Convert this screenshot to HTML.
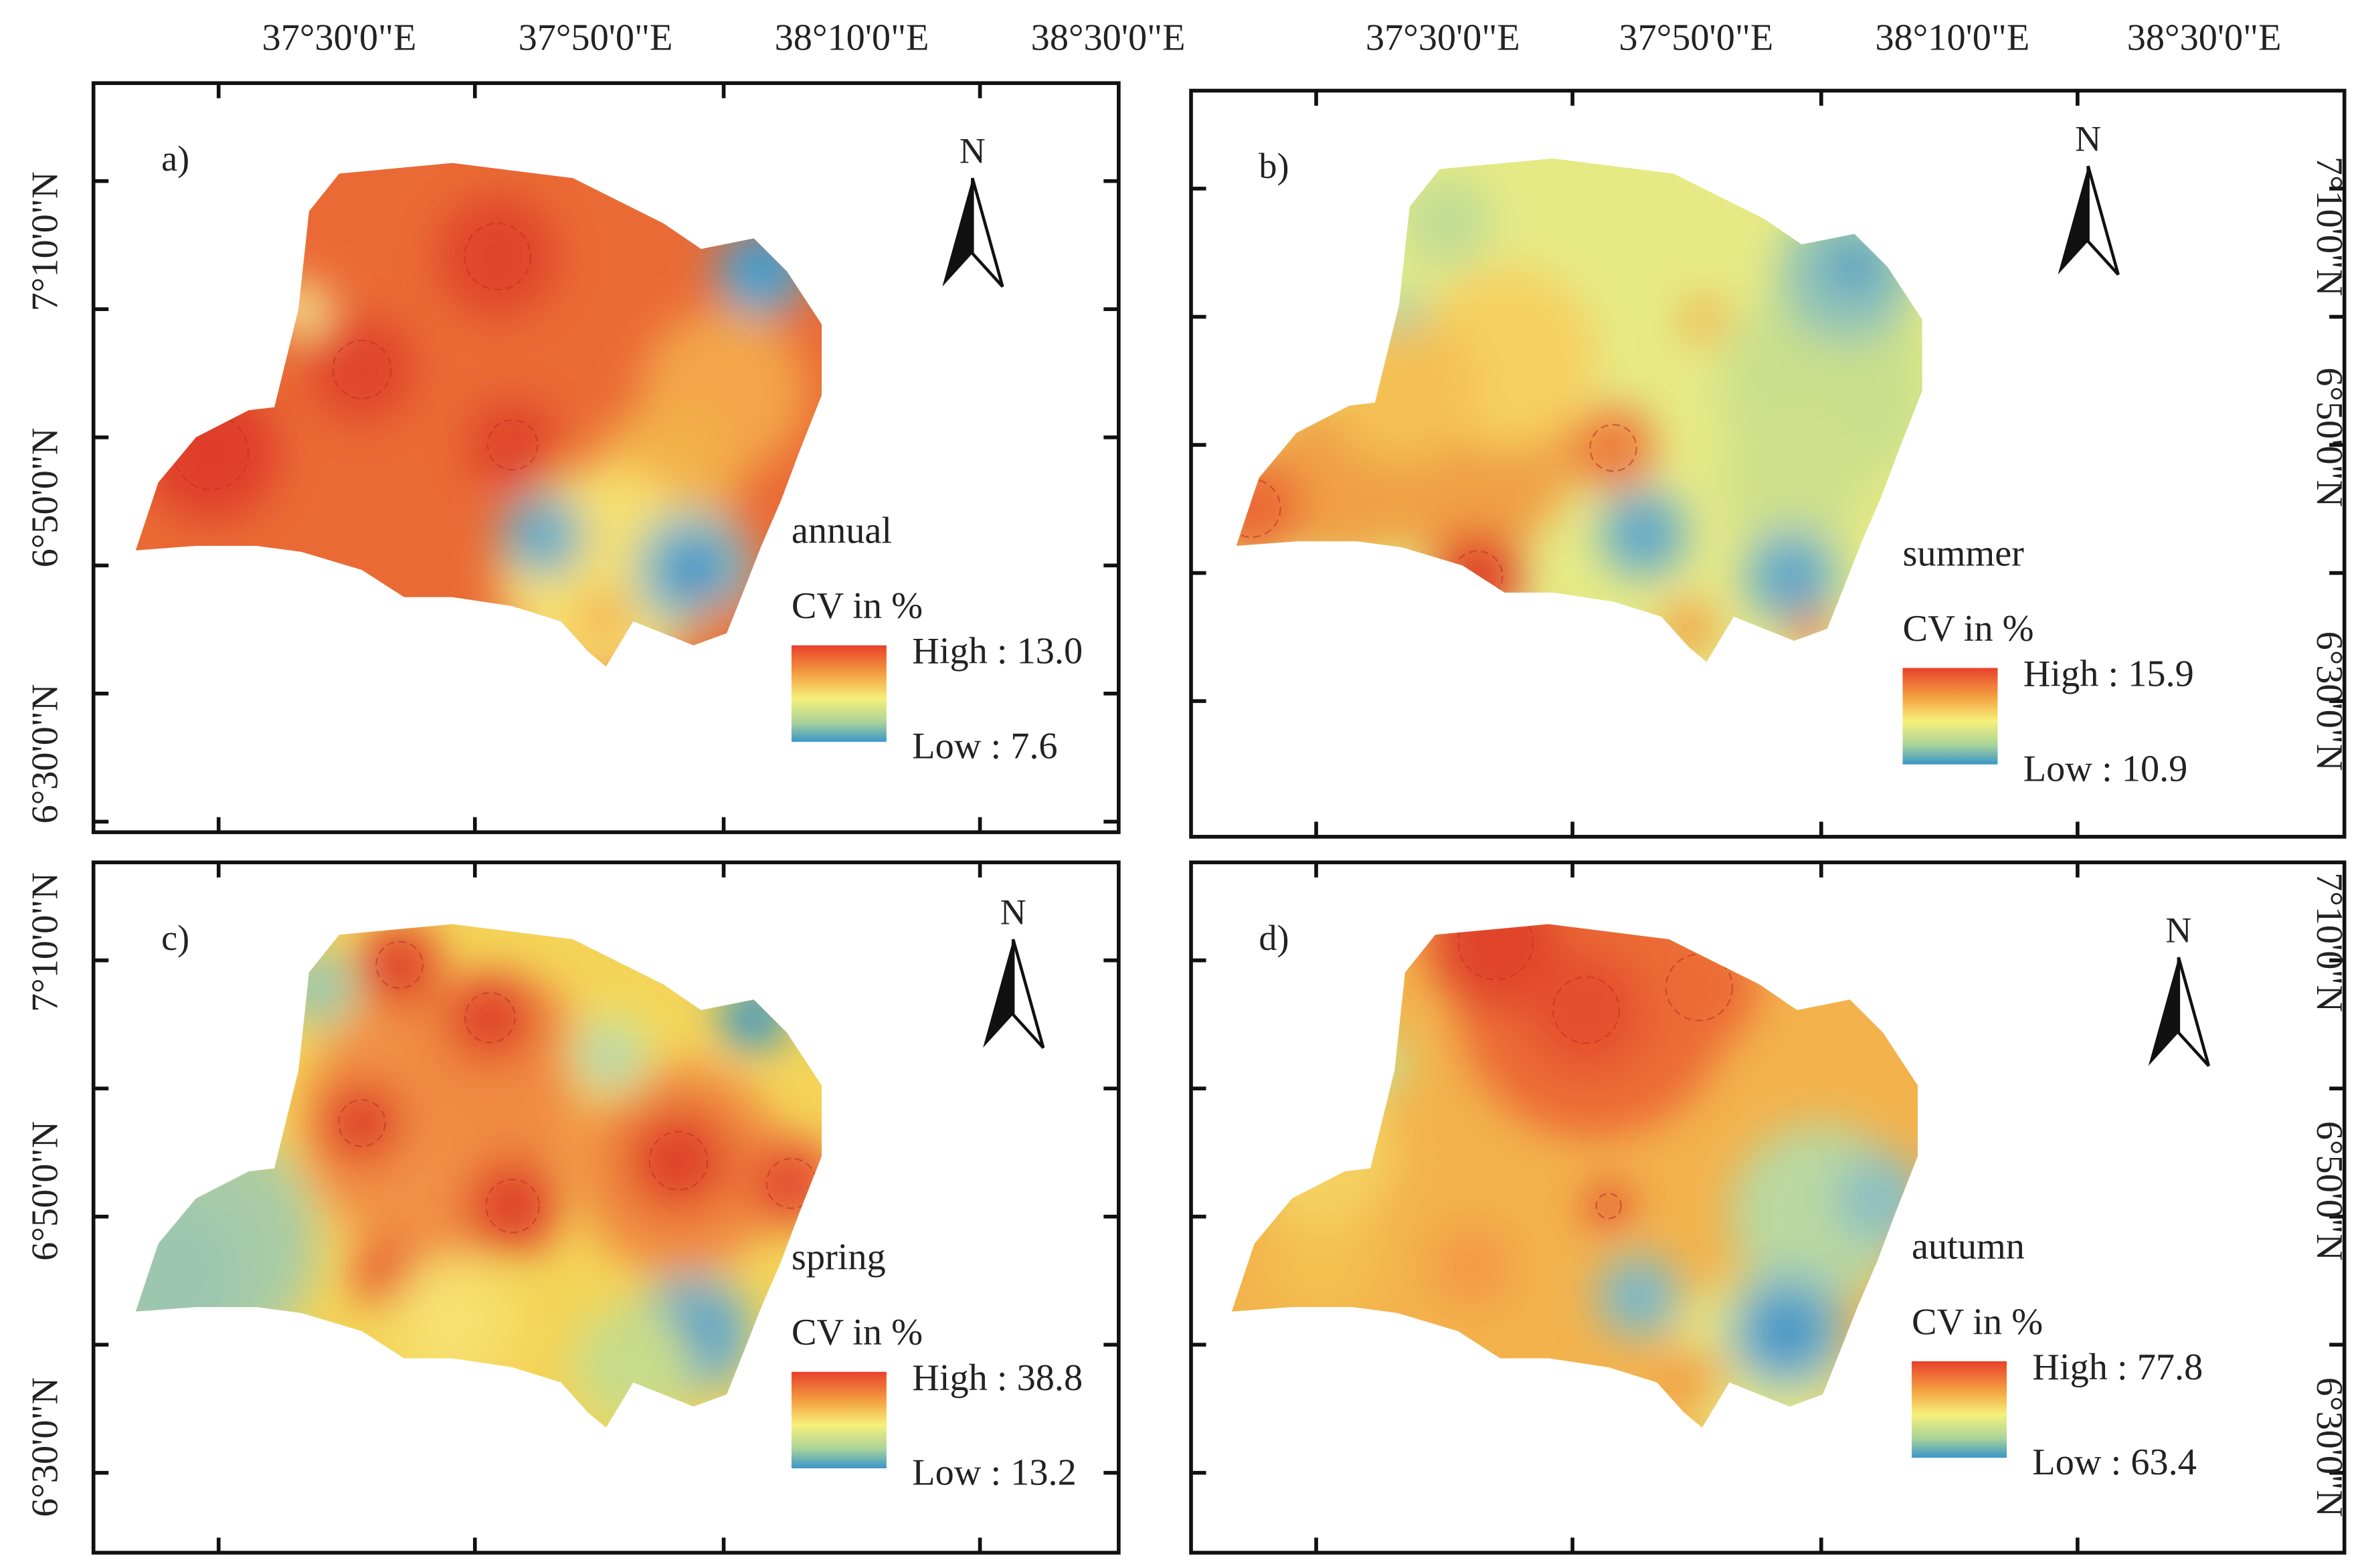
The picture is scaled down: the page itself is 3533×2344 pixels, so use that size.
<!DOCTYPE html>
<html><head><meta charset="utf-8"><style>
html,body{margin:0;padding:0;background:#fff;}
svg{display:block;}
text{font-family:"Liberation Serif",serif;fill:#222;}
</style></head><body>
<svg id="fig" width="3533" height="2344" viewBox="0 0 1568 1040" xmlns="http://www.w3.org/2000/svg">
<defs>
<filter id="blur" x="-50%" y="-50%" width="200%" height="200%"><feGaussianBlur stdDeviation="14"/></filter>
<linearGradient id="leg" x1="0" y1="0" x2="0" y2="1">
<stop offset="0" stop-color="#e8402c"/><stop offset="0.3" stop-color="#f4a040"/><stop offset="0.55" stop-color="#f6f07a"/><stop offset="0.8" stop-color="#a9d39a"/><stop offset="1" stop-color="#3a96c8"/>
</linearGradient>
</defs>
<g id="root"></g>
</svg>
<script>
const panelLetters = ["a)", "b)", "c)", "d)"];
const seasons = ["annual", "summer", "spring", "autumn"];
const highVals = ["13.0", "15.9", "38.8", "77.8"];
const lowVals = ["7.6", "10.9", "13.2", "63.4"];
const lonLabels = ["37°30'0\"E", "37°50'0\"E", "38°10'0\"E", "38°30'0\"E"];
const latLabels = ["7°10'0\"N", "6°50'0\"N", "6°30'0\"N"];
const baseColors = ["#ea6a35", "#e6ea85", "#f4d458", "#f3b24c"];

const NS = "http://www.w3.org/2000/svg";
const root = document.getElementById("root");
function mk(tag, attrs, parent) {
  const e = document.createElementNS(NS, tag);
  for (const k in attrs) e.setAttribute(k, attrs[k]);
  (parent || root).appendChild(e);
  return e;
}
const frames = [[62,55,742,552],[790,60,1555,555],[62,572,742,1030],[790,572,1555,1030]];
const offs = [[0,0],[730,-3],[0,505],[727,505]];
const shape = [[90,365],[105,320],[130,290],[165,272],[182,270],[198,205],[205,140],[225,115],[300,108],[380,118],[440,148],[465,165],[500,158],[522,180],[545,215],[545,262],[530,300],[518,332],[505,362],[490,400],[482,420],[460,428],[420,412],[402,442],[390,432],[372,412],[340,402],[300,396],[268,396],[240,378],[200,366],[170,362],[130,362]];
const blobs = [
 [[330,170,40,"#e0442c"],[240,245,35,"#e0442c"],[140,300,45,"#df3d2b"],[340,295,30,"#e0442c"],[200,205,18,"#f6f09a"],[480,260,55,"#f3a64a"],[440,320,50,"#f3b04a"],[400,380,70,"#f6e070"],[360,355,28,"#7db6c6"],[360,355,12,"#4d9dc4"],[460,378,40,"#8cc0c2"],[460,378,20,"#2f8ec6"],[505,180,30,"#5aa8cc"],[505,175,14,"#2f8ec6"],[400,410,15,"#f39a40"],[475,410,12,"#f08a3a"]],
 [[160,320,55,"#f0a045"],[240,300,75,"#f0a045"],[250,385,30,"#e0442c"],[100,340,35,"#eb6b35"],[340,300,28,"#ee7a3a"],[270,240,60,"#f6d060"],[200,260,50,"#f4c055"],[480,260,70,"#c9df8c"],[460,320,50,"#cfe08a"],[360,357,30,"#7ab6c8"],[360,357,13,"#3c96c6"],[458,385,32,"#7ab6c8"],[458,385,13,"#3c96c6"],[495,185,45,"#8ec2b8"],[500,180,15,"#2f8ec6"],[390,420,18,"#f39a40"],[470,420,12,"#e74b2e"],[230,150,30,"#c0dc96"],[200,210,15,"#a8d0a8"],[400,215,15,"#f3b04a"]],
 [[290,240,90,"#f19045"],[450,270,70,"#f08a40"],[330,200,60,"#f08a40"],[265,135,28,"#e0442c"],[325,170,30,"#e0442c"],[240,240,28,"#e0442c"],[340,295,32,"#e0442c"],[450,265,35,"#e0442c"],[525,280,30,"#e55030"],[255,340,22,"#e85a30"],[130,320,80,"#a9cca6"],[110,340,50,"#9cc6b0"],[210,150,25,"#9cc8b0"],[405,195,28,"#d8e890"],[405,195,12,"#8cc0c2"],[500,170,22,"#3c96c6"],[460,380,40,"#7db6c6"],[460,380,18,"#2f8ec6"],[420,400,40,"#c8dc8a"],[300,370,40,"#f6e070"]],
 [[330,160,90,"#ec6a36"],[265,120,45,"#e0442c"],[325,165,40,"#e4502e"],[400,150,40,"#ec6a36"],[340,295,15,"#e0442c"],[250,335,28,"#f39a45"],[480,300,60,"#b9d8a0"],[520,290,30,"#8cc0c2"],[440,400,60,"#e6e880"],[185,200,22,"#c8e090"],[360,355,28,"#8cc0c2"],[360,355,12,"#5aa8cc"],[458,378,40,"#7db6c6"],[458,378,20,"#2f8ec6"],[395,410,20,"#f39a40"],[150,330,40,"#f3c050"],[150,260,50,"#f4d060"]]
];
const ringIdx = [[0,1,2,3],[2,3,4],[3,4,5,6,7,8],[1,2,3,4]];
const legendPos = [[525,360],[1262,375],[525,842],[1268,835]];
const northPos = [[645,100],[1385,92],[672,605],[1445,617]];

for (let p = 0; p < 4; p++) {
  const f = frames[p], o = offs[p];
  const g = mk("g", {});
  
  
  mk("rect", {x:f[0], y:f[1], width:f[2]-f[0], height:f[3]-f[1], fill:"none", stroke:"#111", "stroke-width":2.5}, g);
  const xt = [145,315,480,650].map(v => v - 62 + f[0]);
  const yt = [];
  for (let i = 0; i < 6; i++) yt.push(f[1] + 65 + i * 85);
  xt.forEach(x => { mk("line",{x1:x,y1:f[1],x2:x,y2:f[1]+10,stroke:"#111","stroke-width":2.5},g); mk("line",{x1:x,y1:f[3],x2:x,y2:f[3]-10,stroke:"#111","stroke-width":2.5},g); });
  yt.filter(y => y < f[3]-5).forEach(y => { mk("line",{x1:f[0],y1:y,x2:f[0]+10,y2:y,stroke:"#111","stroke-width":2.5},g); mk("line",{x1:f[2],y1:y,x2:f[2]-10,y2:y,stroke:"#111","stroke-width":2.5},g); });
  const pts = shape.map(q => (q[0]+o[0]) + "," + (q[1]+o[1])).join(" ");
  const cp = mk("clipPath", {id:"clip"+p}, g);
  mk("polygon", {points:pts}, cp);
  const mg = mk("g", {"clip-path":"url(#clip"+p+")"}, g);
  
  
  mk("rect", {x:o[0]+80, y:o[1]+100, width:480, height:350, fill:baseColors[p]}, mg);
  const bg = mk("g", {filter:"url(#blur)"}, mg);
  blobs[p].forEach(b => mk("circle", {cx:b[0]+o[0], cy:b[1]+o[1], r:b[2], fill:b[3]}, bg));
  ringIdx[p].forEach(i => { const b = blobs[p][i]; mk("circle", {cx:b[0]+o[0], cy:b[1]+o[1], r:Math.min(b[2],45)*0.55, fill:"none", stroke:"#c0302a", "stroke-width":1, "stroke-dasharray":"5,3", opacity:0.6}, mg); });
  const lt = mk("text", {x:f[0]+45, y:f[1]+58, "font-size":24}, g); lt.textContent = panelLetters[p];
   
  const n = northPos[p];
  const nt = mk("text", {x:n[0], y:n[1]+8, "font-size":24, "text-anchor":"middle", "font-family":"Liberation Sans"}, g); nt.textContent = "N";
   
  mk("polygon", {points:`${n[0]},${n[1]+18} ${n[0]-20},${n[1]+90} ${n[0]},${n[1]+68}`, fill:"#111"}, g);
  mk("polygon", {points:`${n[0]},${n[1]+18} ${n[0]+20},${n[1]+90} ${n[0]},${n[1]+68}`, fill:"#fff", stroke:"#111", "stroke-width":2}, g);
  const L = legendPos[p];
  const lg = mk("g", {}, g);
   
  let t = mk("text", {x:L[0], y:L[1], "font-size":25}, lg); t.textContent = seasons[p];
  t = mk("text", {x:L[0], y:L[1]+50, "font-size":25}, lg); t.textContent = "CV in %";
  mk("rect", {x:L[0], y:L[1]+68, width:63, height:64, fill:"url(#leg)"}, lg);
  t = mk("text", {x:L[0]+80, y:L[1]+80, "font-size":25}, lg); t.textContent = "High : " + highVals[p];
  t = mk("text", {x:L[0]+80, y:L[1]+143, "font-size":25}, lg); t.textContent = "Low : " + lowVals[p];
}
[[225,395,565,735],[957,1125,1295,1462]].forEach((xs,j) => xs.forEach((x,i) => {
  const t = mk("text", {x:x, y:33, "font-size":25, "text-anchor":"middle"}); t.textContent = lonLabels[i];
   
}));
const latSets = [[30,[160,330,500],-90],[30,[625,790,960],-90],[1545,[150,290,465],90],[1545,[625,790,960],90]];
latSets.forEach(s => s[1].forEach((y,i) => {
  const t = mk("text", {x:s[0], y:y, "font-size":25, "text-anchor":"middle", transform:`rotate(${s[2]} ${s[0]} ${y}) translate(0 8)`}); t.textContent = latLabels[i];
   
}));
</script>
</body></html>
